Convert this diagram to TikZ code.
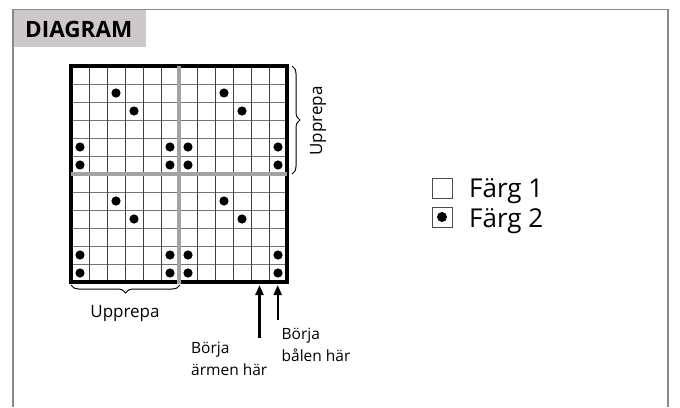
\documentclass[tikz,border=0pt]{standalone}
\usepackage{fontspec}
\setmainfont{Open Sans}
\usetikzlibrary{decorations.pathreplacing,arrows.meta}
\definecolor{framegray}{HTML}{8A8A8A}
\definecolor{tabgray}{HTML}{CDC9C9}
\definecolor{midgray}{HTML}{A3A3A3}
\tikzset{
  vline/.style={draw=black!75,line width=0.9pt},
  hline/.style={draw=black!55,line width=0.9pt},
  midline/.style={draw=midgray,line width=3.2pt},
  border/.style={draw=black,line width=3.4pt,line cap=rect},
  dot/.style={fill=black},
  bracestyle/.style={draw=black,line width=1pt,decorate,decoration={brace,amplitude=8pt}},
  lbl/.style={font=\fontsize{15.5}{21}\selectfont,inner sep=0pt},
  replbl/.style={font=\fontsize{17}{21}\selectfont,inner sep=0pt},
  uparrow/.style={draw=black,line width=2.2pt,-{Triangle[length=10pt,width=8pt]}},
  legbox/.style={draw=black!70,line width=0.9pt,fill=white},
  legtext/.style={anchor=base west,inner sep=0pt,font=\fontsize{26}{30}\selectfont},
}
\begin{document}
\begin{tikzpicture}[x=1pt,y=-1pt]
\useasboundingbox (0,0) rectangle (680,407);
\fill[white] (0,0) rectangle (680,407);
% frame
\draw[framegray,line width=1.2pt] (13,407) -- (13,9.5) -- (668,9.5) -- (668,407);
\fill[tabgray] (13.6,10.1) rectangle (146,47);
\node[anchor=base west,inner sep=0pt,font=\fontsize{22.5}{24}\selectfont\bfseries] (title) at (25,37.5) {DIAGRAM};
% grid
\foreach \i in {1,...,11} {
  \draw[hline] (71,66+18*\i) -- (287,66+18*\i);
}
\foreach \i in {1,...,11} {
  \draw[vline] (71+18*\i,66) -- (71+18*\i,282);
}
\draw[border] (71,66) rectangle (287,282);
\draw[midline] (71,174) -- (287,174);
\draw[midline] (179,66) -- (179,284);
% dots
\foreach \qx in {0,6} {
  \foreach \qy in {0,6} {
    \foreach \c/\r in {2/1,3/2,0/4,5/4,0/5,5/5} {
      \fill[dot] (71+18*\qx+18*\c+9,66+18*\qy+18*\r+9) circle (4.6);
    }
  }
}
% braces
\coordinate (bl) at (71,285);
\coordinate (br) at (180,285);
\draw[bracestyle] (br) -- (bl);
\node[replbl] (rep1) at (125,313) {Upprepa};
\coordinate (rt) at (292,66);
\coordinate (rb) at (292,174);
\draw[bracestyle] (rt) -- (rb);
\node[replbl,rotate=90] (rep2) at (318,121) {Upprepa};
% arrows
\coordinate (a1tip) at (259.5,285);
\coordinate (a1tail) at (259.5,338);
\coordinate (a2tip) at (277.7,285);
\coordinate (a2tail) at (277.7,320);
\draw[uparrow] (a1tail) -- (a1tip);
\draw[uparrow] (a2tail) -- (a2tip);
\node[lbl,anchor=base west] (t1a) at (191,353.5) {Börja};
\node[lbl,anchor=base west] (t1b) at (191,375.5) {ärmen här};
\node[lbl,anchor=base west] (t2a) at (281.5,339.5) {Börja};
\node[lbl,anchor=base west] (t2b) at (281.5,361.5) {bålen här};
% legend
\node[legbox,minimum size=20pt,inner sep=0pt] (box1) at (442,188) {};
\node[legbox,minimum size=20pt,inner sep=0pt] (box2) at (442,217) {};
\fill[dot] (box2.center) circle (5);
\node[legtext] (f1) at (469,197.5) {Färg 1};
\node[legtext] (f2) at (469,227) {Färg 2};
\end{tikzpicture}
\end{document}
